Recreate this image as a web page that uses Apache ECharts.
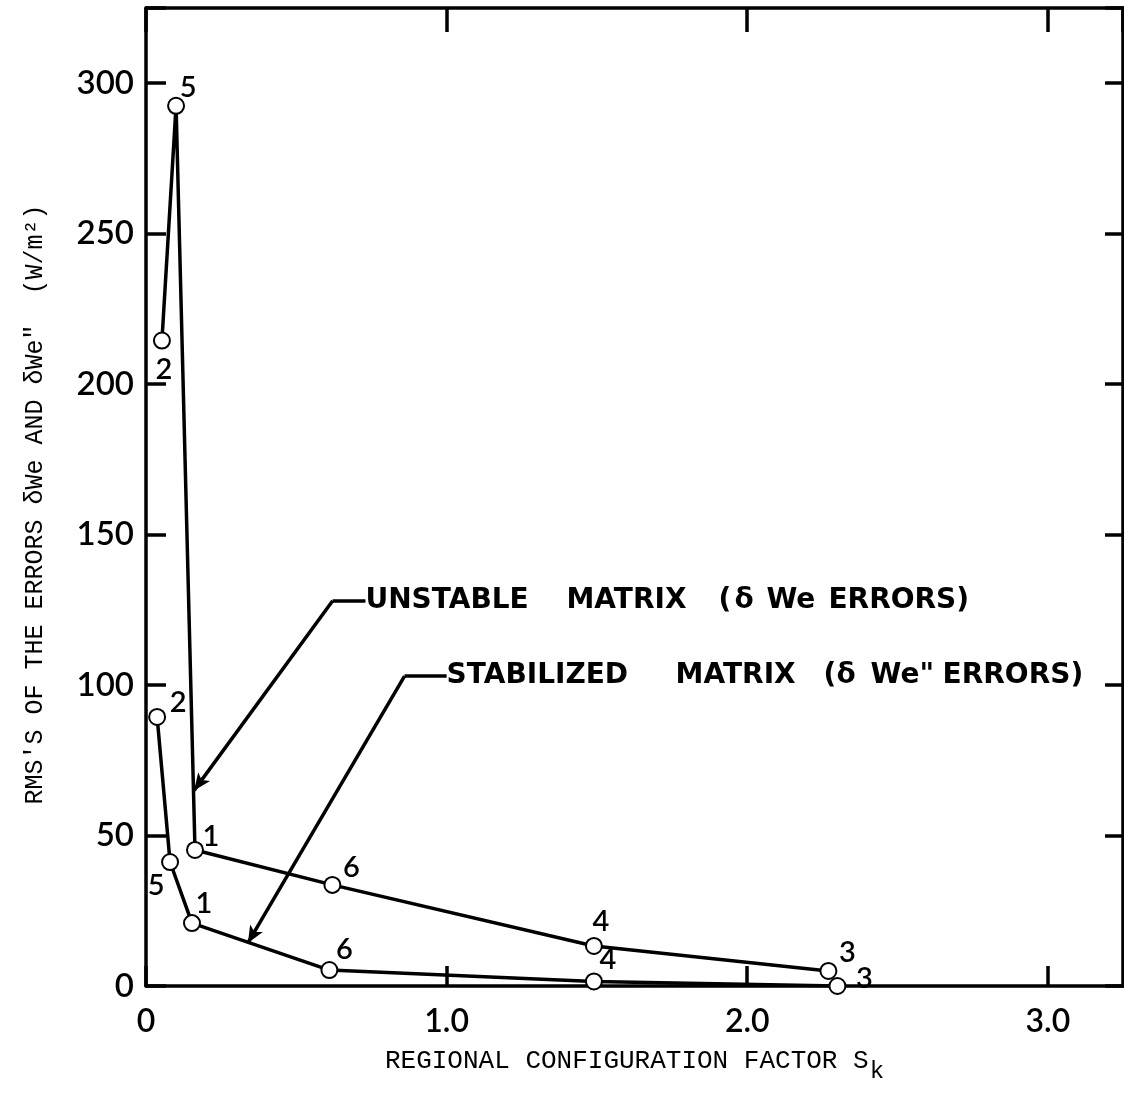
<!DOCTYPE html>
<html>
<head>
<meta charset="utf-8">
<script src="https://cdn.jsdelivr.net/npm/echarts@6/dist/echarts.min.js"></script>
<style>
  html, body { margin: 0; padding: 0; background: #fff; }
  #chart { width: 1124px; height: 1103px; }
</style>
</head>
<body>
<div id="chart"></div>
<script>
// values
const unstableS = [0.053, 0.10, 0.163, 0.62, 1.49, 2.27]
const unstableRms = [214.5, 292.5, 45.2, 33.6, 13.3, 5.0]
const unstableIds = ['2', '5', '1', '6', '4', '3']

const stableS = [0.037, 0.08, 0.153, 0.61, 1.49, 2.30]
const stableRms = [89.4, 41.2, 20.9, 5.3, 1.5, 0]
const stableIds = ['2', '5', '1', '6', '4', '3']

const xTicks = { 0: '0', 1: '1.0', 2: '2.0', 3: '3.0' }
const yTicks = [0, 50, 100, 150, 200, 250, 300]

// offsets (px) of the point numbers from their circles
const unstableLabelOff = [[2, 29], [12, -18], [16, -13], [19, -17], [7, -24], [19, -18]]
const stableLabelOff = [[21, -14], [-14, 24], [12, -19], [15, -20], [14, -22], [27, -7]]

// annotation words and the room each one takes
const unstableNote = [['UNSTABLE', 201], ['MATRIX', 152], ['(', 16], ['δ', 32], ['We', 62], ['ERRORS)', 0]]
const stableNote = [['STABILIZED', 229], ['MATRIX', 148], ['(', 13], ['δ', 34], ['We"', 72], ['ERRORS)', 0]]

const chart = echarts.init(document.getElementById('chart'))

const sans = 'Lato'
const mono = 'Liberation Mono'
const lettering = 'DejaVu Sans'

function buildData(xs, ys, ids, off) {
  return xs.map((x, i) => ({
    value: [x, ys[i]],
    name: ids[i],
    label: { offset: off[i] }
  }))
}

function noteLabel(words) {
  const rich = {}
  const parts = words.map((w, i) => {
    rich['w' + i] = {
      fontFamily: lettering,
      fontWeight: 'bold',
      fontSize: 28,
      color: '#000'
    }
    if (w[1]) rich['w' + i].width = w[1]
    return '{w' + i + '|' + w[0] + '}'
  })
  return {
    show: true,
    position: 'start',
    distance: 9,
    align: 'left',
    formatter: parts.join(''),
    rich: rich
  }
}

const lineStyle = { color: '#000', width: 3.5 }
const axisLine = { show: true, onZero: false, lineStyle: { color: '#000', width: 3.5 } }
const tickStyle = { color: '#000', width: 3.5 }
const pointLabel = {
  show: true,
  position: 'inside',
  formatter: p => p.name,
  color: '#000',
  fontFamily: sans,
  fontWeight: 600,
  fontSize: 29
}
const circleStyle = { color: '#000', borderColor: '#000', borderWidth: 3.5 }

const options = {
  animation: false,
  backgroundColor: '#fff',
  grid: { left: 146, right: 1, top: 8, bottom: 117 },
  xAxis: [
    {
      type: 'value',
      min: 0,
      max: 3.25,
      interval: 1,
      position: 'bottom',
      axisLine: axisLine,
      axisTick: { show: true, inside: true, length: 20, lineStyle: tickStyle },
      splitLine: { show: false },
      axisLabel: {
        color: '#000',
        fontFamily: sans,
        fontWeight: 600,
        fontSize: 32,
        margin: 20,
        showMaxLabel: false,
        formatter: v => xTicks[Math.round(v)] || ''
      },
      name: '{t|REGIONAL CONFIGURATION FACTOR S}{s|k}',
      nameLocation: 'middle',
      nameGap: 52,
      nameTextStyle: {
        rich: {
          t: { fontFamily: mono, fontSize: 26, color: '#000' },
          s: { fontFamily: mono, fontSize: 24, color: '#000', padding: [22, 0, 0, 1] }
        }
      }
    },
    {
      type: 'value',
      min: 0,
      max: 3.25,
      interval: 1,
      position: 'top',
      axisLine: axisLine,
      axisTick: { show: true, inside: true, length: 24, lineStyle: tickStyle },
      axisLabel: { show: false },
      splitLine: { show: false }
    }
  ],
  yAxis: [
    {
      type: 'value',
      min: 0,
      max: 325,
      interval: 50,
      position: 'left',
      axisLine: axisLine,
      axisTick: { show: true, inside: true, length: 20, lineStyle: tickStyle },
      splitLine: { show: false },
      axisLabel: {
        color: '#000',
        fontFamily: sans,
        fontWeight: 600,
        fontSize: 33,
        margin: 12,
        formatter: v => (yTicks.indexOf(v) >= 0 ? String(v) : '')
      },
      name: 'RMS\'S OF THE ERRORS δWe AND δWe"  (W/m²) ',
      nameLocation: 'middle',
      nameGap: 98,
      nameTextStyle: { fontFamily: mono, fontSize: 25, color: '#000' }
    },
    {
      type: 'value',
      min: 0,
      max: 325,
      interval: 50,
      position: 'right',
      axisLine: axisLine,
      axisTick: { show: true, inside: true, length: 18, lineStyle: tickStyle },
      axisLabel: { show: false },
      splitLine: { show: false }
    }
  ],
  series: [
    {
      name: 'unstable',
      type: 'line',
      data: buildData(unstableS, unstableRms, unstableIds, unstableLabelOff),
      symbol: 'emptyCircle',
      symbolSize: 16,
      lineStyle: lineStyle,
      itemStyle: circleStyle,
      label: pointLabel,
      markLine: {
        silent: true,
        animation: false,
        symbolSize: [11, 17],
        lineStyle: { color: '#000', width: 3.5, type: 'solid' },
        label: { show: false },
        data: [
          [
            { coord: [0.621, 128], symbol: 'none' },
            { coord: [0.73, 128], symbol: 'none' }
          ],
          [
            { coord: [0.73, 128], symbol: 'none', label: noteLabel(unstableNote) },
            { coord: [0.73, 128], symbol: 'none' }
          ],
          [
            { coord: [0.621, 128], symbol: 'none' },
            { coord: [0.16, 65], symbol: 'arrow' }
          ]
        ]
      }
    },
    {
      name: 'stabilized',
      type: 'line',
      data: buildData(stableS, stableRms, stableIds, stableLabelOff),
      symbol: 'emptyCircle',
      symbolSize: 16,
      lineStyle: lineStyle,
      itemStyle: circleStyle,
      label: pointLabel,
      markLine: {
        silent: true,
        animation: false,
        symbolSize: [11, 17],
        lineStyle: { color: '#000', width: 3.5, type: 'solid' },
        label: { show: false },
        data: [
          [
            { coord: [0.86, 103], symbol: 'none' },
            { coord: [1.0, 103], symbol: 'none' }
          ],
          [
            { coord: [1.0, 103], symbol: 'none', label: noteLabel(stableNote) },
            { coord: [1.0, 103], symbol: 'none' }
          ],
          [
            { coord: [0.86, 103], symbol: 'none' },
            { coord: [0.339, 14.3], symbol: 'arrow' }
          ]
        ]
      }
    }
  ]
}

chart.setOption(options, true)
</script>
</body>
</html>
